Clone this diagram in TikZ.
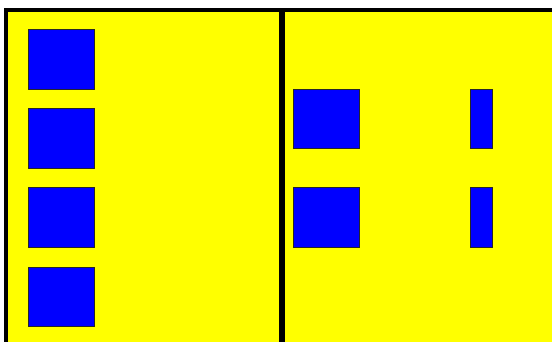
\documentclass[tikz,border=0pt]{standalone}
\definecolor{pureyellow}{RGB}{255,255,0}
\definecolor{pureblue}{RGB}{0,0,255}
\begin{document}
\begin{tikzpicture}[x=1pt,y=-1pt,
  bluebox/.style={fill=pureblue,draw=black!85,line width=1pt}]
\useasboundingbox (0,0) rectangle (552,342);
\fill[white] (0,0) rectangle (552,342);
% frame border and background
\fill[black] (4,8.5) rectangle (552,342);
\fill[pureyellow] (8,12.5) rectangle (552,342);
% divider
\fill[black] (279,12.5) rectangle (285,342);
% left column boxes
\foreach \y in {30,109,188,267}
  \draw[bluebox] (28.5,\y) rectangle (94.5,\y+59.5);
% right boxes
\foreach \y in {89.5,188}
{
  \draw[bluebox] (293,\y) rectangle (359.5,\y+59.5);
  \draw[bluebox] (470,\y) rectangle (492,\y+59.5);
}
\end{tikzpicture}
\end{document}
